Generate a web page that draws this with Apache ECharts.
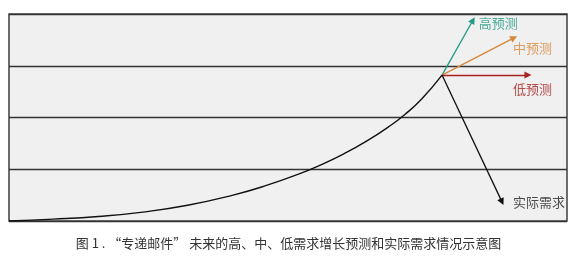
<!DOCTYPE html>
<html>
<head>
<meta charset="utf-8">
<script src="https://cdn.jsdelivr.net/npm/echarts@6/dist/echarts.min.js"></script>
<style>
html,body{margin:0;padding:0;background:#fff;}
#c{width:577px;height:263px;}
</style>
</head>
<body>
<div id="c"></div>
<script>
// Historical demand curve (x: 0-100 time scale, y: 0-4 bands)
const curveX = [0, 8, 16, 24, 32, 40, 46, 52, 56, 60, 64, 68, 71, 74, 77.6];
const curveY = [0, 0.036, 0.088, 0.172, 0.304, 0.496, 0.682, 0.91, 1.09, 1.298, 1.538, 1.818, 2.064, 2.364, 2.82];
// Forecast / actual arrows from the last curve point
const arrowNames = ['高预测', '中预测', '低预测', '实际需求'];
const arrowEndX = [83.15, 90.5, 93.0, 88.35];
const arrowEndY = [3.88, 3.54, 2.82, 0.37];
const labelX = [87.7, 93.8, 93.8, 95.0];
const labelY = [3.83, 3.35, 2.55, 0.36];
const colors = ['#1f9a85', '#d8873a', '#a82222', '#111111'];
const caption = '图 1 . “专递邮件” 未来的高、中、低需求增长预测和实际需求情况示意图';

const startX = curveX[curveX.length - 1];
const startY = curveY[curveY.length - 1];

const chart = echarts.init(document.getElementById('c'), null, {renderer: 'canvas'});
const font = '"Noto Sans CJK SC", "Noto Sans", sans-serif';

chart.setOption({
  animation: false,
  backgroundColor: '#ffffff',
  title: {
    text: caption,
    left: 'center',
    top: 237,
    padding: 0,
    textStyle: {fontSize: 13, fontWeight: 'normal', color: '#333', fontFamily: font}
  },
  grid: {
    left: 9, right: 10, top: 14, bottom: 42,
    show: true, backgroundColor: '#eff0ef', borderColor: '#4a4a4a', borderWidth: 1.6
  },
  xAxis: {
    type: 'value', min: 0, max: 100, show: true,
    axisLine: {show: false}, axisTick: {show: false}, axisLabel: {show: false}, splitLine: {show: false}
  },
  yAxis: {
    type: 'value', min: 0, max: 4, interval: 1,
    axisLine: {show: false}, axisTick: {show: false}, axisLabel: {show: false},
    splitLine: {show: true, lineStyle: {color: '#333', width: 1.3}}
  },
  series: [
    {
      type: 'line', smooth: 0.5, symbol: 'none',
      lineStyle: {color: '#111', width: 1.4},
      data: curveX.map((x, i) => [x, curveY[i]])
    },
    {
      type: 'lines', coordinateSystem: 'cartesian2d', polyline: false,
      symbol: ['none', 'triangle'], symbolSize: [0, 7],
      data: arrowNames.map((n, i) => ({
        coords: [[startX, startY], [arrowEndX[i], arrowEndY[i]]],
        lineStyle: {color: colors[i], width: 1.3}
      })),
      lineStyle: {width: 1.3, opacity: 1}
    },
    {
      type: 'scatter', symbolSize: 0,
      data: arrowNames.map((n, i) => ({
        value: [labelX[i], labelY[i]], name: n,
        label: {show: true, position: 'inside', formatter: n, fontSize: 13, fontFamily: font,
          color: i === 3 ? '#222' : colors[i]}
      }))
    }
  ]
});
</script>
</body>
</html>
